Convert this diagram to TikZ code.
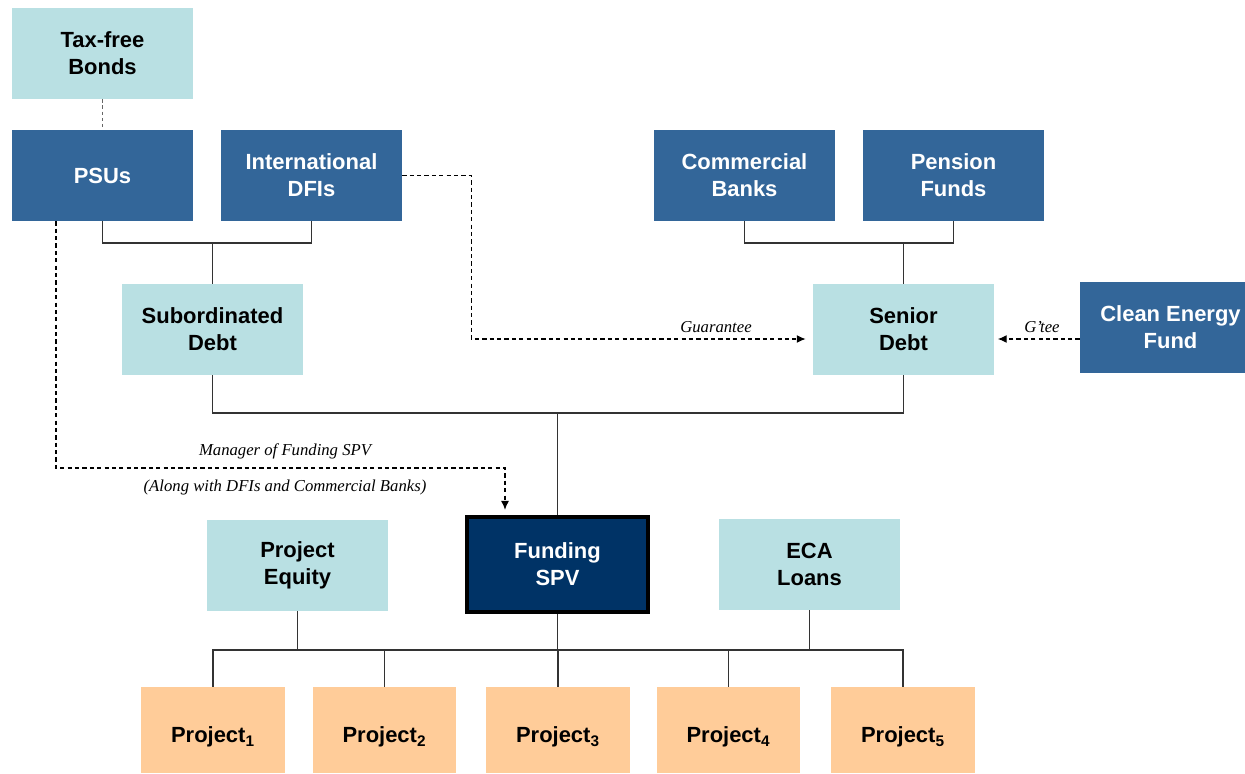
\documentclass[tikz,border=0pt]{standalone}
\usepackage{fontspec}
\setmainfont{Liberation Sans}
\newfontfamily\notefont{Liberation Serif}
\usetikzlibrary{arrows.meta}
\definecolor{paleteal}{RGB}{185,224,227}
\definecolor{steel}{RGB}{51,102,153}
\definecolor{navy}{RGB}{0,51,102}
\definecolor{peach}{RGB}{255,204,153}

\begin{document}
\begin{tikzpicture}[x=0.02cm, y=-0.02cm,
    every node/.style={font=\bfseries\fontsize{12.5}{15.3}\selectfont, align=center, inner sep=0pt},
    box/.style={minimum width=3.62cm, minimum height=1.82cm},
    tealbox/.style={box, fill=paleteal},
    bluebox/.style={box, fill=steel, text=white},
    projbox/.style={box, fill=peach, minimum width=2.88cm, minimum height=1.72cm,
                    text height=14.6pt, text depth=0pt},
    link/.style={draw=black!80, line width=0.6pt},
    dashlink/.style={draw=black, line width=0.6pt, dash pattern=on 2.4pt off 1.8pt, -{Latex[length=5pt,width=4.5pt]}},
    note/.style={font=\notefont\itshape\fontsize{9.5}{11}\selectfont}]
  \useasboundingbox (0,0) rectangle (1245,774);

  % sources
  \node[tealbox] (tfb) at (102.5,53.5) {Tax-free\\Bonds};
  \node[bluebox] (psu) at (102.5,175.5) {PSUs};
  \node[bluebox] (dfi) at (311.5,175.5) {International\\DFIs};
  \node[bluebox] (cb) at (744.5,175.5) {Commercial\\Banks};
  \node[bluebox] (pf) at (953.5,175.5) {Pension\\Funds};
  \node[tealbox] (sub) at (212.5,329.5) {Subordinated\\Debt};
  \node[tealbox] (senior) at (903.5,329.5) {Senior\\Debt};
  % runs off the right edge of the page
  \node[bluebox] (cef) at (1170.5,327.5) {Clean Energy\\Fund};

  % vehicle and projects
  \node[tealbox] (equity) at (297.5,565.5) {Project\\Equity};
  \node[draw=black, line width=0.08cm, fill=navy, text=white,
        minimum width=3.64cm, minimum height=1.9cm] (spv) at (557.5,564.5) {Funding\\SPV};
  \node[tealbox] (eca) at (809.5,564.5) {ECA\\Loans};
  \foreach \i/\x in {1/213,2/384.5,3/558,4/728.5,5/903}
    \node[projbox] (p\i) at (\x,730) {Project\textsubscript{\i}};

  \coordinate (top) at (0,243);
  \coordinate (mid) at (0,413);
  \coordinate (bus) at (0,650);
  \coordinate (gty) at (0,339);
  \coordinate (mgr) at (56,468);
  \coordinate (mgrend) at (505,0);

  % solid links
  \draw[link] (psu.south) -- (psu.south |- top) -- (dfi.south |- top) -- (dfi.south);
  \draw[link] (sub.north) -- (sub.north |- top);
  \draw[link] (cb.south) -- (cb.south |- top) -- (pf.south |- top) -- (pf.south);
  \draw[link] (senior.north) -- (senior.north |- top);
  \draw[link] (sub.south) -- (sub.south |- mid) -- (senior.south |- mid) -- (senior.south);
  \draw[link] (spv.north) -- (spv.north |- mid);
  \draw[link] (p1.north) -- (p1.north |- bus) -- (p5.north |- bus) -- (p5.north);
  \foreach \i in {2,3,4}
    \draw[link] (p\i.north) -- (p\i.north |- bus);
  \draw[link] (spv.south) -- (spv.south |- bus);
  \draw[link] (equity.south) -- (equity.south |- bus);
  \draw[link] (eca.south) -- (eca.south |- bus);

  % dashed links
  \draw[draw=black!60, line width=0.6pt, dash pattern=on 2pt off 1.5pt] (tfb.south) -- (psu.north);
  \draw[dashlink, shorten >=4pt] (dfi.east) -- ++(69,0) |- (senior.west |- gty);
  \draw[dashlink, shorten >=2pt] (cef.west |- gty) -- (senior.east |- gty);
  \draw[dashlink, shorten >=3pt] (psu.south -| mgr) -- (mgr) -- (mgrend |- mgr) -- (mgrend |- spv.north);

  \node[note] (lgty) at (716,327) {Guarantee};
  \node[note] (lgtee) at (1042,327) {G’tee};
  \node[note] (lmgr) at (285,451) {Manager of Funding SPV};
  \node[note] (lalong) at (285,487) {(Along with DFIs and Commercial Banks)};
\end{tikzpicture}
\end{document}
